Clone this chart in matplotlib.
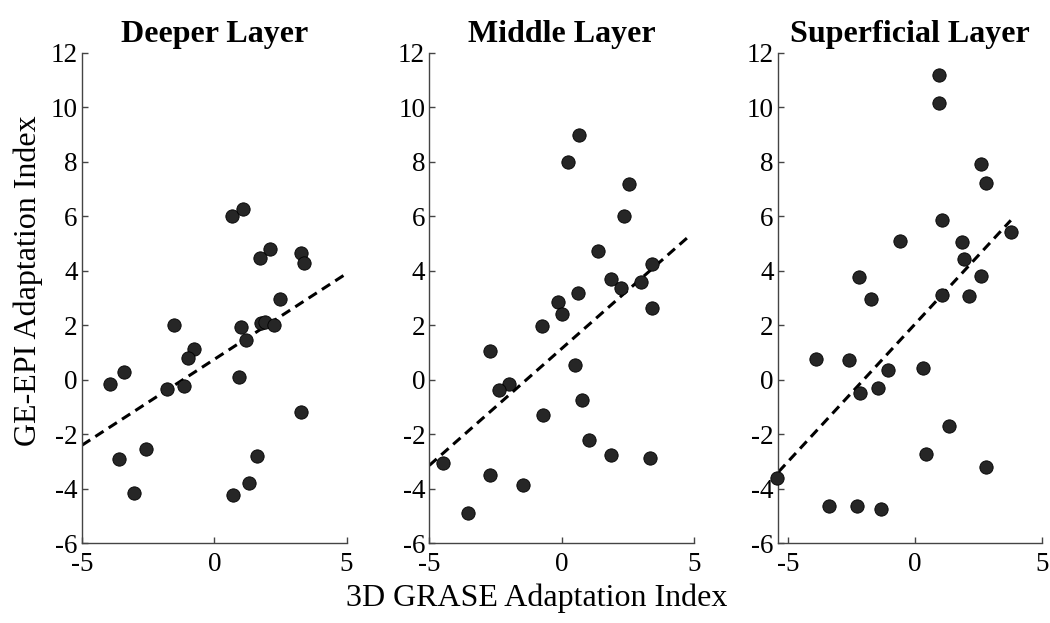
import matplotlib
matplotlib.use("Agg")
import matplotlib.pyplot as plt

plt.rcParams['font.family'] = ['Liberation Serif', 'DejaVu Serif']
plt.rcParams['axes.unicode_minus'] = False

titles = ['Deeper Layer', 'Middle Layer', 'Superficial Layer']

# 3D GRASE (x) vs GE-EPI (y) adaptation index, per layer
deep_x = [-3.95, -3.42, -1.53, -0.76, -1.01, -1.80, -1.15, -3.62, -2.59, -3.02,
          1.01, 1.19, 0.95, 1.76, 1.91, 2.27, 2.49, 3.26, 1.61, 1.31, 0.71,
          0.65, 1.07, 1.73, 2.11, 3.27, 3.40]
deep_y = [-0.14, 0.30, 2.00, 1.13, 0.79, -0.34, -0.24, -2.89, -2.54, -4.15,
          1.93, 1.45, 0.09, 2.08, 2.13, 2.00, 2.95, -1.20, -2.81, -3.79, -4.24,
          6.01, 6.28, 4.47, 4.80, 4.65, 4.29]

mid_x = [0.25, 0.64, 2.54, 2.34, 1.38, 3.41, 1.85, 2.24, 3.00, 0.63,
         -0.12, 0.03, -0.74, 3.42, -2.72, 0.49, -1.99, -2.37, 0.77, -0.71,
         1.02, 1.85, 3.35, -4.50, -2.69, -1.46, -3.53]
mid_y = [7.98, 8.99, 7.17, 6.01, 4.74, 4.23, 3.69, 3.35, 3.60, 3.20,
         2.84, 2.40, 1.97, 2.62, 1.06, 0.56, -0.17, -0.36, -0.73, -1.28,
         -2.22, -2.77, -2.87, -3.06, -3.50, -3.87, -4.89]

sup_x = [0.95, 0.95, 2.59, 2.78, 1.06, 3.76, -0.58, 1.83, 1.94, -2.20, 2.60,
         1.07, 2.11, -1.72, -3.90, -2.59, -1.06, 0.29, -2.15, -1.47,
         1.35, 0.44, 2.79, -5.42, -3.38, -2.28, -1.34]
sup_y = [11.17, 10.15, 7.93, 7.22, 5.88, 5.41, 5.09, 5.04, 4.42, 3.77, 3.80,
         3.11, 3.06, 2.96, 0.76, 0.74, 0.37, 0.45, -0.48, -0.30,
         -1.69, -2.71, -3.20, -3.60, -4.64, -4.63, -4.73]

# regression line end points
fit_x = [[-5.0, 5.0], [-5.0, 4.9], [-5.37, 3.76]]
fit_y = [[-2.40, 3.90], [-3.14, 5.34], [-3.38, 5.85]]

xs = [deep_x, mid_x, sup_x]
ys = [deep_y, mid_y, sup_y]
xlims = [(-5, 5), (-5, 5), (-5.4, 5)]

fig = plt.figure(figsize=(10.5, 6.23), dpi=100)
lefts = [0.0781, 0.4089, 0.7407]
for i in range(3):
    ax = fig.add_axes([lefts[i], 0.1279, 0.252, 0.7875])
    ax.plot(fit_x[i], fit_y[i], color='black', lw=2.2, linestyle=(0, (3.2, 2.0)), zorder=2)
    ax.scatter(xs[i], ys[i], s=92, color='#262626', edgecolors='black', linewidths=0.6,
               zorder=3, clip_on=False)
    ax.set_xlim(*xlims[i])
    ax.set_ylim(-6, 12)
    ax.set_xticks([-5, 0, 5])
    ax.set_yticks(range(-6, 13, 2))
    ax.spines['top'].set_visible(False)
    ax.spines['right'].set_visible(False)
    for s in ['left', 'bottom']:
        ax.spines[s].set_color('#444444')
        ax.spines[s].set_linewidth(1.0)
    ax.tick_params(direction='in', length=4, width=1.0, color='#444444', labelsize=19.5)
    ax.tick_params(axis='x', pad=6)
    ax.tick_params(axis='y', pad=3)
    ax.set_title(titles[i], fontsize=23, fontweight='bold', pad=8)

fig.text(0.027, 0.55, 'GE-EPI Adaptation Index', fontsize=23, rotation=90,
         ha='center', va='center')
fig.text(0.511, 0.04, '3D GRASE Adaptation Index', fontsize=23, ha='center', va='center')
fig.savefig('out.png', dpi=100)
